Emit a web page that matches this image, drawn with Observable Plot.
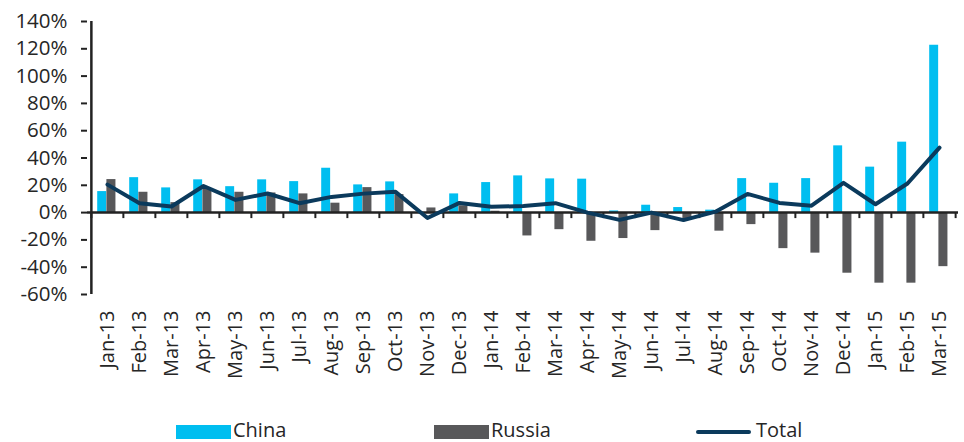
<!DOCTYPE html>
<html>
<head>
<meta charset="utf-8">
<script src="https://cdn.jsdelivr.net/npm/d3@7"></script>
<script src="https://cdn.jsdelivr.net/npm/@observablehq/plot@0.6"></script>
<style>
  html, body { margin: 0; padding: 0; background: #fff; }
  #wrap { position: relative; width: 964px; height: 442px; font-family: "Open Sans", sans-serif; color: #262626; overflow: hidden; }
  .lg { position: absolute; font-size: 20px; line-height: 20px; white-space: nowrap; }
  .sw { position: absolute; }
</style>
</head>
<body>
<div id="wrap">
  <div id="chart"></div>
  <div id="legend"></div>
</div>
<script>
const months = ["Jan-13","Feb-13","Mar-13","Apr-13","May-13","Jun-13","Jul-13","Aug-13","Sep-13","Oct-13","Nov-13","Dec-13",
  "Jan-14","Feb-14","Mar-14","Apr-14","May-14","Jun-14","Jul-14","Aug-14","Sep-14","Oct-14","Nov-14","Dec-14",
  "Jan-15","Feb-15","Mar-15"];
const china  = [15.4, 25.6, 18.1, 24.0, 19.0, 24.0, 22.7, 32.5, 20.3, 22.5, 0, 13.7, 22.0, 26.9, 24.7, 24.5, 1.2, 5.4, 3.7, 1.8, 24.9, 21.5, 24.9, 48.9, 33.3, 51.6, 122.6];
const russia = [24.2, 14.9, 7.3, 17.5, 14.9, 14.4, 13.7, 6.9, 18.3, 13.2, 3.4, 5.0, 1.0, -17.1, -12.5, -21.0, -19.0, -13.2, -4.5, -13.6, -8.8, -26.4, -29.7, -44.4, -51.7, -51.7, -39.6];
const total  = [20.5, 6.9, 4.5, 19.5, 9.3, 14.0, 6.9, 11.5, 13.9, 15.2, -4.0, 7.1, 4.3, 4.8, 6.9, 0.0, -5.3, 0.0, -5.5, 0.7, 13.7, 7.1, 5.1, 21.8, 6.1, 21.3, 47.6];
const yTicks = [-60, -40, -20, 0, 20, 40, 60, 80, 100, 120, 140];
const seriesNames = ["China", "Russia", "Total"];
const colors = ["#00BEF0", "#58585A", "#0B3A5C"];

const rows = months.map((m, i) => ({month: m, china: china[i], russia: russia[i], total: total[i]}));

const W = 964, H = 410, mL = 87, mR = 6, mT = 21, mB = 116;
const bw = (W - mL - mR) / months.length;
const axisColor = "#222";

const chart = Plot.plot({
  width: W, height: H,
  marginLeft: mL, marginRight: mR, marginTop: mT, marginBottom: mB,
  style: {fontFamily: "'Open Sans', sans-serif", color: "#262626", background: "#fff"},
  x: {type: "band", domain: months, padding: 0, label: null},
  y: {domain: [-60, 140], label: null},
  marks: [
    Plot.barY(rows, {x: "month", y: "china", fill: colors[0], insetLeft: 6.2, insetRight: bw - 15.4}),
    Plot.barY(rows, {x: "month", y: "russia", fill: colors[1], insetLeft: 15.4, insetRight: bw - 24.7}),
    Plot.ruleY([0], {stroke: axisColor, strokeWidth: 2.5}),
    Plot.ruleX(months, {x: d => d, y1: 0, y2: 0, insetBottom: -6, dx: -bw / 2, stroke: axisColor, strokeWidth: 2}),
    Plot.ruleX(months.slice(-1), {x: d => d, y1: 0, y2: 0, insetBottom: -6, dx: bw / 2, stroke: axisColor, strokeWidth: 2}),
    Plot.ruleX(months.slice(0, 1), {x: d => d, y1: -60, y2: 140, dx: -bw / 2, stroke: axisColor, strokeWidth: 2.5}),
    Plot.line(rows, {x: "month", y: "total", stroke: colors[2], strokeWidth: 4, strokeLinejoin: "round", strokeLinecap: "round"}),
    Plot.axisY({ticks: yTicks, tickFormat: d => d + "%", tickSize: 6, tickPadding: 14, fontSize: 20.5, stroke: axisColor, strokeWidth: 2, strokeOpacity: 1, fill: "#262626", label: null}),
    Plot.axisX({tickRotate: -90, tickSize: 0, tickPadding: 16, fontSize: 20, fill: "#262626", label: null})
  ]
});
document.getElementById("chart").appendChild(chart);

// legend
const legend = document.getElementById("legend");
const items = [
  {name: seriesNames[0], color: colors[0], kind: "box", sx: 176, tx: 233},
  {name: seriesNames[1], color: colors[1], kind: "box", sx: 434, tx: 491},
  {name: seriesNames[2], color: colors[2], kind: "line", sx: 696, tx: 756}
];
for (const it of items) {
  const sw = document.createElement("div");
  sw.className = "sw";
  sw.style.left = it.sx + "px";
  sw.style.width = "55px";
  sw.style.background = it.color;
  if (it.kind === "box") { sw.style.top = "425px"; sw.style.height = "14px"; }
  else { sw.style.top = "430px"; sw.style.height = "4px"; sw.style.borderRadius = "2px"; }
  legend.appendChild(sw);
  const t = document.createElement("div");
  t.className = "lg";
  t.style.left = it.tx + "px";
  t.style.top = "420px";
  t.textContent = it.name;
  legend.appendChild(t);
}
</script>
</body>
</html>
